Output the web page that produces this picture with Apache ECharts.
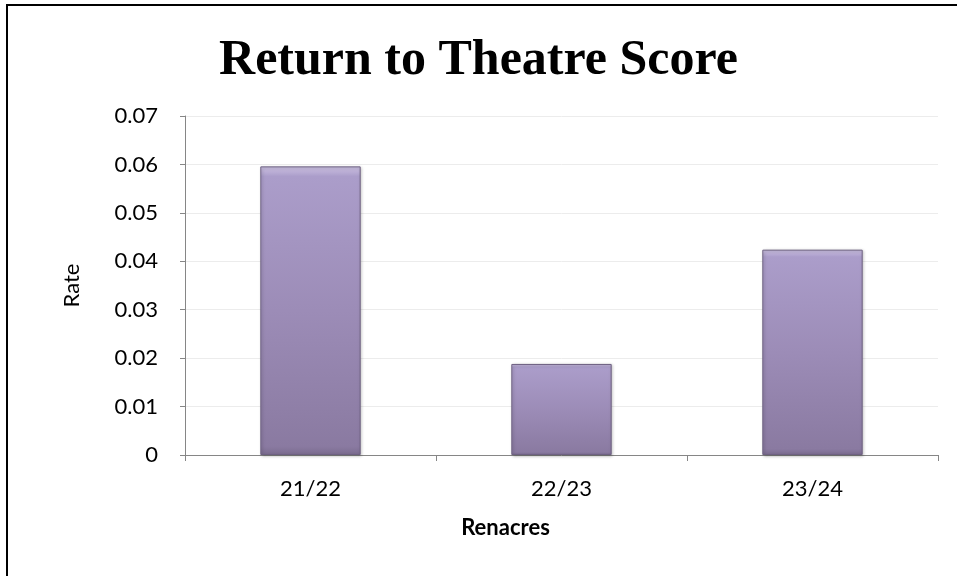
<!DOCTYPE html>
<html>
<head>
<meta charset="utf-8">
<script src="https://cdn.jsdelivr.net/npm/echarts@6/dist/echarts.min.js"></script>
<style>
html,body{margin:0;padding:0;background:#fff;}
#chart{width:957px;height:576px;}
</style>
</head>
<body>
<div id="chart"></div>
<script>
var categories = ['21/22', '22/23', '23/24'];
var rates = [0.0596, 0.0188, 0.0424];
var yTicks = { min: 0, max: 0.07, interval: 0.01 };
var titleText = 'Return to Theatre Score';
var xName = 'Renacres';
var yName = 'Rate';

var chart = echarts.init(document.getElementById('chart'), null, { renderer: 'canvas' });
var axisFont = 'Lato';
var option = {
  animation: false,
  backgroundColor: '#ffffff',
  title: {
    text: titleText,
    left: 'center',
    top: 31,
    textStyle: { fontFamily: 'Liberation Serif', fontWeight: 'bold', fontSize: 50, color: '#000' }
  },
  graphic: [{
    type: 'rect',
    shape: { x: 7, y: 5, width: 1000, height: 1000 },
    style: { fill: 'none', stroke: '#000', lineWidth: 2 },
    silent: true
  }],
  grid: { left: 185, right: 19, top: 116, bottom: 121 },
  xAxis: {
    type: 'category',
    data: categories,
    boundaryGap: true,
    axisLine: { lineStyle: { color: '#868686', width: 1 } },
    axisTick: { show: true, length: 6, lineStyle: { color: '#868686' } },
    axisLabel: { margin: 23, fontFamily: axisFont, fontSize: 22, color: '#000' },
    name: xName,
    nameLocation: 'middle',
    nameGap: 62,
    nameTextStyle: { fontFamily: axisFont, fontWeight: 'bold', fontSize: 22, color: '#000', padding: [0, 112, 0, 0] }
  },
  yAxis: {
    type: 'value',
    min: yTicks.min,
    max: yTicks.max,
    interval: yTicks.interval,
    axisLine: { show: true, lineStyle: { color: '#868686', width: 1 } },
    axisTick: { show: true, length: 5, lineStyle: { color: '#868686' } },
    splitLine: { lineStyle: { color: '#ececec', width: 1 } },
    axisLabel: {
      margin: 27, fontFamily: axisFont, fontSize: 22, color: '#000',
      formatter: function (v) { return v === 0 ? '0' : v.toFixed(2); }
    },
    name: yName,
    nameLocation: 'middle',
    nameRotate: 90,
    nameGap: 102,
    nameTextStyle: { fontFamily: axisFont, fontSize: 22, color: '#000' }
  },
  series: [{
    type: 'bar',
    data: rates,
    barWidth: '40%',
    itemStyle: {
      color: new echarts.graphic.LinearGradient(0, 0, 0, 1, [
        { offset: 0, color: '#cdc2e3' },
        { offset: 0.035, color: '#ab9dca' },
        { offset: 0.5, color: '#9c8cb7' },
        { offset: 0.97, color: '#8a7aa1' },
        { offset: 1, color: '#7a6b8f' }
      ]),
      borderColor: '#6e6182',
      borderWidth: 1,
      shadowColor: 'rgba(0,0,0,0.25)',
      shadowBlur: 3,
      shadowOffsetX: 1,
      shadowOffsetY: 1
    }
  }]
};
chart.setOption(option);
</script>
</body>
</html>
